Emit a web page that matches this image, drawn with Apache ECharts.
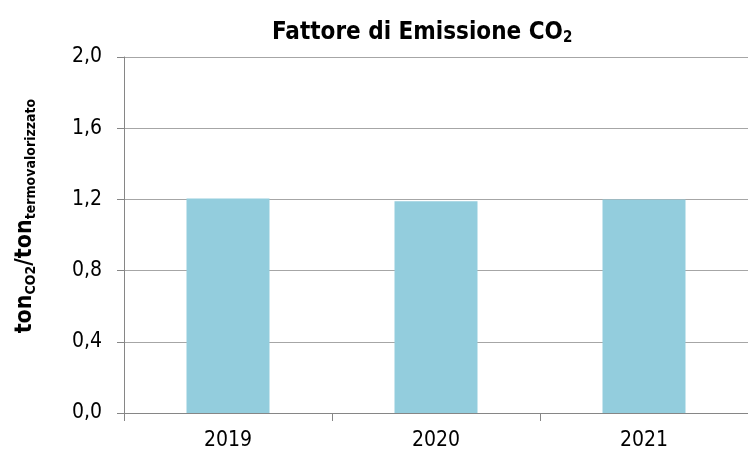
<!DOCTYPE html>
<html>
<head>
<meta charset="utf-8">
<script src="https://cdn.jsdelivr.net/npm/echarts@6/dist/echarts.min.js"></script>
<style>
  html, body { margin: 0; padding: 0; background: #fff; }
  #chart { width: 748px; height: 454px; }
</style>
</head>
<body>
<div id="chart"></div>
<script>
// anni e fattore di emissione (ton CO2 / ton termovalorizzato)
const years = ['2019', '2020', '2021']
const emissionFactor = [1.205, 1.19, 1.2]
const yTicks = { min: 0, max: 2.0, step: 0.4 }

const font = '"Liberation Sans Narrow", "DejaVu Sans Condensed", "Liberation Sans", sans-serif'

const chart = echarts.init(document.getElementById('chart'))
chart.setOption({
  animation: false,
  backgroundColor: '#fff',
  textStyle: { fontFamily: font },
  title: {
    text: '{b|Fattore di Emissione CO}{s|2}',
    left: 267,
    top: 14,
    textStyle: {
      rich: {
        b: { fontFamily: font, fontSize: 24, fontWeight: 'bold', color: '#000' },
        s: { fontFamily: font, fontSize: 15, fontWeight: 'bold', color: '#000', padding: [12, 0, 0, 0] }
      }
    }
  },
  grid: { left: 124, right: -6, top: 57, bottom: 41, containLabel: false },
  xAxis: {
    type: 'category',
    data: years,
    axisLine: { lineStyle: { color: '#868686', width: 1 } },
    axisTick: { show: true, length: 8, lineStyle: { color: '#868686' } },
    axisLabel: { color: '#000', fontSize: 21, margin: 17 }
  },
  yAxis: {
    type: 'value',
    min: yTicks.min,
    max: yTicks.max,
    interval: yTicks.step,
    name: '{b|ton}{s|CO2}{b|/ton}{s|termovalorizzato}',
    nameLocation: 'middle',
    nameRotate: 90,
    nameGap: 86,
    nameTextStyle: {
      padding: [0, 0, 0, 38],
      rich: {
        b: { fontFamily: font, fontSize: 23, fontWeight: 'bold', color: '#000' },
        s: { fontFamily: font, fontSize: 14, fontWeight: 'bold', color: '#000', padding: [12, 0, 0, 0] }
      }
    },
    axisLine: { show: true, lineStyle: { color: '#868686' } },
    axisTick: { show: true, inside: false, length: 7, lineStyle: { color: '#868686' } },
    axisLabel: {
      color: '#000',
      fontSize: 21,
      margin: 22,
      formatter: v => v.toFixed(1).replace('.', ',')
    },
    splitLine: { show: true, lineStyle: { color: '#a6a6a6', width: 1 } }
  },
  series: [{
    type: 'bar',
    data: emissionFactor,
    barWidth: 83,
    itemStyle: { color: '#93cddd' }
  }]
})
</script>
</body>
</html>
